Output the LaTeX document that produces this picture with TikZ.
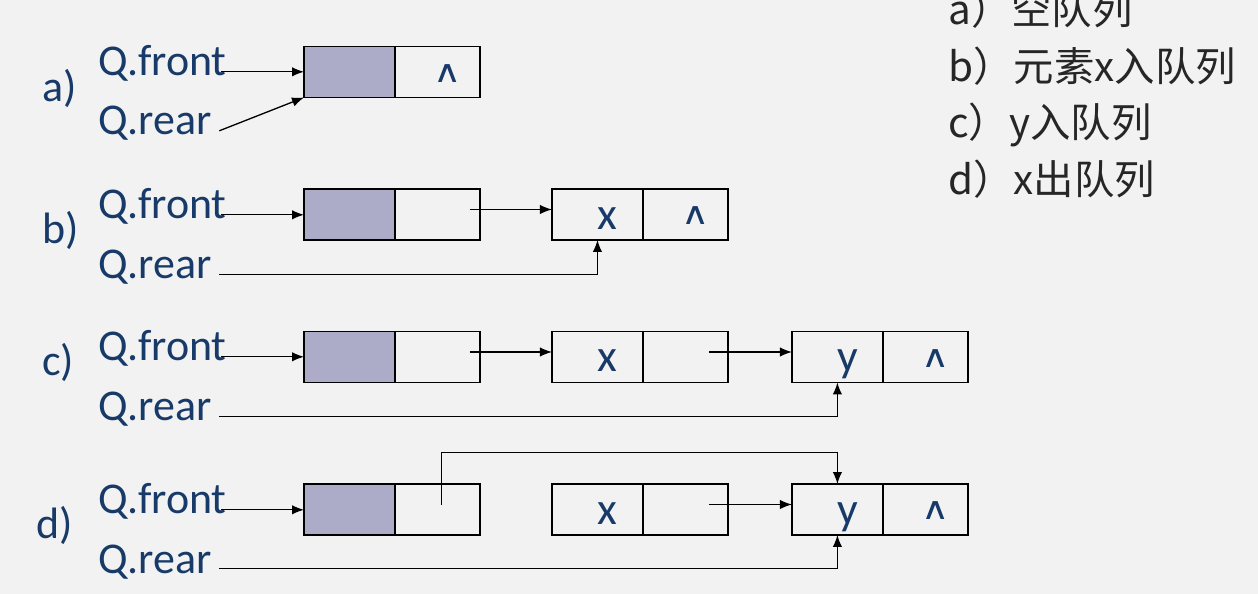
\documentclass[tikz,border=0pt]{standalone}
\usepackage{graphicx}
\usepackage{fontspec}
\setmainfont{Carlito}
\newfontfamily\cjkfont{Noto Sans CJK SC}
\newfontfamily\symfont{DejaVu Sans}
\usetikzlibrary{positioning,arrows.meta}
\definecolor{qblue}{RGB}{24,58,105}
\definecolor{headgray}{RGB}{173,172,200}
\definecolor{slidebg}{RGB}{242,242,242}
\newcommand{\nilmark}{\raisebox{0.09cm}{\scalebox{1}[0.8]{\symfont\fontsize{22}{26}\selectfont ∧}}}

\begin{document}
\begin{tikzpicture}[x=0.02cm, y=-0.02cm,
    cell/.style={draw, line width=1.1pt, minimum height=1.02cm, inner sep=0pt, outer sep=0pt,
        text height=0.6cm, text depth=0pt, text=qblue, font=\fontsize{26}{30}\selectfont,
        execute at begin node={\hspace*{0.4cm}}},
    datacell/.style={cell, minimum width=1.82cm},
    nextcell/.style={cell, minimum width=1.70cm},
    headcell/.style={datacell, fill=headgray},
    qtext/.style={anchor=base west, inner sep=0pt, text=qblue, font=\fontsize{25}{30}\selectfont},
    ptr/.style={line width=0.75pt, -{Latex[length=0.24cm,width=0.19cm]}},
    legend/.style={anchor=base west, inner sep=0pt, text=black!85, font=\cjkfont\fontsize{23}{27}\selectfont}]

    \useasboundingbox (0,0) rectangle (1258,594);
    \fill[slidebg] (0,0) rectangle (1258,594);

    % a) empty queue
    \node[qtext] (alabel) at (42,102) {a)};
    \node[qtext] (afront) at (98,76) {Q.front};
    \node[qtext] (arear) at (98,135) {Q.rear};
    \node[headcell] (ahead) at (349.5,72) {};
    \node[nextcell, right=0pt of ahead] (anext) {\nilmark};
    \draw[ptr] ([xshift=-0.12cm]afront.mid east) -- (afront.mid east -| ahead.west);
    \draw[ptr] ([xshift=0.14cm]arear.mid east) -- (ahead.south west);

    % b) x enters
    \node[qtext] (blabel) at (42,244) {b)};
    \node[qtext] (bfront) at (98,219) {Q.front};
    \node[qtext] (brear) at (98,279) {Q.rear};
    \node[headcell] (bhead) at (349.5,214.5) {};
    \node[nextcell, right=0pt of bhead] (bnext) {};
    \node[datacell, right=1.44cm of bnext] (bx) {x};
    \node[nextcell, right=0pt of bx] (bxnext) {\nilmark};
    \draw[ptr] ([xshift=-0.12cm]bfront.mid east) -- (bfront.mid east -| bhead.west);
    \draw[ptr] ([xshift=0.65cm,yshift=0.1cm]bnext.center) -- ([yshift=0.1cm]bx.west);
    \draw[ptr] ([xshift=0.14cm]brear.mid east) -| (bx.south);

    % c) y enters
    \node[qtext] (clabel) at (42,376) {c)};
    \node[qtext] (cfront) at (98,361) {Q.front};
    \node[qtext] (crear) at (98,421) {Q.rear};
    \node[headcell] (chead) at (349.5,357) {};
    \node[nextcell, right=0pt of chead] (cnext) {};
    \node[datacell, right=1.44cm of cnext] (cx) {x};
    \node[nextcell, right=0pt of cx] (cxnext) {};
    \node[datacell, right=1.28cm of cxnext] (cy) {y};
    \node[nextcell, right=0pt of cy] (cynext) {\nilmark};
    \draw[ptr] ([xshift=-0.12cm]cfront.mid east) -- (cfront.mid east -| chead.west);
    \draw[ptr] ([xshift=0.65cm,yshift=0.1cm]cnext.center) -- ([yshift=0.1cm]cx.west);
    \draw[ptr] ([xshift=0.48cm,yshift=0.1cm]cxnext.center) -- ([yshift=0.1cm]cy.west);
    \draw[ptr] ([xshift=0.14cm]crear.mid east) -| (cy.south);

    % d) x leaves
    \node[qtext] (dlabel) at (36,539) {d)};
    \node[qtext] (dfront) at (98,514) {Q.front};
    \node[qtext] (drear) at (98,573) {Q.rear};
    \node[headcell] (dhead) at (349.5,509.5) {};
    \node[nextcell, right=0pt of dhead] (dnext) {};
    \node[datacell, right=1.44cm of dnext] (dx) {x};
    \node[nextcell, right=0pt of dx] (dxnext) {};
    \node[datacell, right=1.28cm of dxnext] (dy) {y};
    \node[nextcell, right=0pt of dy] (dynext) {\nilmark};
    \draw[ptr] ([xshift=-0.12cm]dfront.mid east) -- (dfront.mid east -| dhead.west);
    \draw[ptr] ([xshift=0.08cm,yshift=0.1cm]dnext.center) -- ++(0,-52) -| (dy.north);
    \draw[ptr] ([xshift=0.48cm,yshift=0.1cm]dxnext.center) -- ([yshift=0.1cm]dy.west);
    \draw[ptr] ([xshift=0.14cm]drear.mid east) -| (dy.south);

    % legend
    \node[legend] (lega) at (948,25) {a）空队列};
    \node[legend] (legb) at (948,82) {b）元素x入队列};
    \node[legend] (legc) at (948,138) {c）y入队列};
    \node[legend] (legd) at (948,195) {d）x出队列};
\end{tikzpicture}
\end{document}
